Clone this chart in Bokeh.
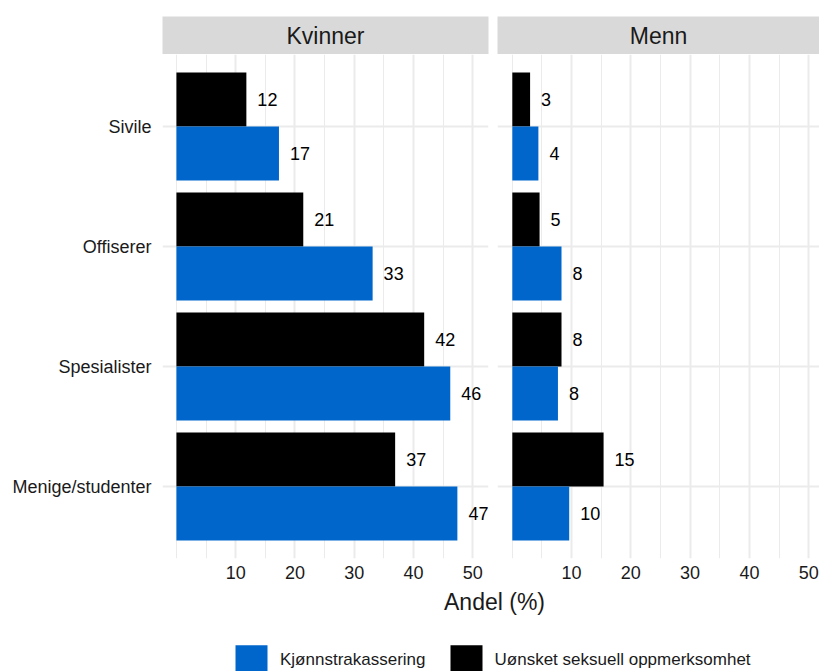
from bokeh.plotting import figure
from bokeh.models import (ColumnDataSource, FactorRange, Range1d, FixedTicker,
                          Label, Legend, LegendItem)
from bokeh.layouts import column, row
from bokeh.transform import dodge
from bokeh.embed import file_html
from bokeh.resources import INLINE
from bokeh.core.properties import value

# ---------------- data ----------------
categories = ["Sivile", "Offiserer", "Spesialister", "Menige/studenter"]
panels = ["Kvinner", "Menn"]
series = ["Kjønnstrakassering", "Uønsket seksuell oppmerksomhet"]
series_colors = ["#0066cc", "#000000"]

kvinner_trakassering = [17.3, 33.1, 46.2, 47.4]
kvinner_oppmerksomhet = [11.8, 21.4, 41.8, 36.9]
menn_trakassering = [4.4, 8.3, 7.7, 9.6]
menn_oppmerksomhet = [3.0, 4.6, 8.3, 15.4]

x_ticks = [10, 20, 30, 40, 50]
x_minor_ticks = [0, 5, 15, 25, 35, 45]
x_title = "Andel (%)"

FONT = "Liberation Sans"
TXT = "#1a1a1a"
GRID = "#ebebeb"
STRIP = "#d9d9d9"

yr = FactorRange(factors=categories[::-1], range_padding=0.1,
                 range_padding_units="absolute")


def strip(name, width, left, right):
    s = figure(width=width, height=54, x_range=Range1d(0, 1), y_range=Range1d(0, 1),
               x_axis_type=None, y_axis_type=None, toolbar_location=None,
               output_backend="svg", title=None,
               min_border_left=left, min_border_right=right,
               min_border_top=16, min_border_bottom=0)
    s.background_fill_color = STRIP
    s.border_fill_color = "white"
    s.outline_line_color = None
    s.grid.visible = False
    s.add_layout(Label(x=0.5, y=0.5, text=name, text_align="center",
                       text_baseline="middle", text_font=FONT,
                       text_font_size="23px", text_color=TXT))
    return s


def panel(traka, oppm, width, left, right, x_start, x_end, show_y):
    src = ColumnDataSource(dict(
        cat=categories, traka=traka, oppm=oppm,
        traka_lbl=[str(round(v)) for v in traka],
        oppm_lbl=[str(round(v)) for v in oppm]))
    p = figure(width=width, height=534, y_range=yr, x_range=Range1d(x_start, x_end),
               toolbar_location=None, output_backend="svg", title=None,
               min_border_left=left, min_border_right=right,
               min_border_top=0, min_border_bottom=30)
    y_top = dodge("cat", 0.225, range=yr)
    y_bot = dodge("cat", -0.225, range=yr)
    p.hbar(y=y_top, left=0, right="oppm", height=0.45, fill_color=series_colors[1],
           line_color=None, source=src)
    p.hbar(y=y_bot, left=0, right="traka", height=0.45, fill_color=series_colors[0],
           line_color=None, source=src)
    for col, yy in (("oppm", y_top), ("traka", y_bot)):
        p.text(x=col, y=yy, text=col + "_lbl", x_offset=11, text_align="left",
               text_baseline="middle", text_font=value(FONT), text_font_size="18px",
               text_color="#000000", source=src)

    p.xaxis.ticker = FixedTicker(ticks=x_ticks, minor_ticks=x_minor_ticks)
    for ax in (p.xaxis[0], p.yaxis[0]):
        ax.axis_line_color = None
        ax.major_tick_line_color = None
        ax.minor_tick_line_color = None
        ax.major_tick_out = 0
        ax.major_tick_in = 0
        ax.minor_tick_out = 0
        ax.minor_tick_in = 0
        ax.major_label_text_font = FONT
        ax.major_label_text_font_size = "18px"
        ax.major_label_text_color = TXT
    p.xaxis.major_label_standoff = 7
    p.yaxis.major_label_standoff = 11
    p.yaxis.visible = show_y

    p.xgrid.grid_line_color = GRID
    p.xgrid.grid_line_width = 2
    p.xgrid.minor_grid_line_color = GRID
    p.xgrid.minor_grid_line_width = 1
    p.ygrid.grid_line_color = GRID
    p.ygrid.grid_line_width = 2
    p.outline_line_color = None
    p.background_fill_color = "white"
    return p


s1 = strip(panels[0], 492, 162, 4)
s2 = strip(panels[1], 327, 5, 0)
p1 = panel(kvinner_trakassering, kvinner_oppmerksomhet, 492, 162, 4, -2.35, 52.65, True)
p2 = panel(menn_trakassering, menn_oppmerksomhet, 327, 5, 0, -2.5, 51.83, False)

# bottom: shared axis title and legend
b = figure(width=819, height=83, x_range=Range1d(0, 1), y_range=Range1d(0, 1),
           x_axis_type=None, y_axis_type=None, toolbar_location=None,
           output_backend="svg", title=None,
           min_border_left=0, min_border_right=0, min_border_top=0, min_border_bottom=0)
b.outline_line_color = None
b.grid.visible = False
b.add_layout(Label(x=494, y=70, x_units="screen", y_units="screen", text=x_title,
                   text_align="center", text_baseline="middle", text_font=FONT,
                   text_font_size="23px", text_color=TXT))
# zero-size proxy bars that only feed the legend
src_proxy = ColumnDataSource(dict(y=[0], right=[0]))
r_blue = b.hbar(y="y", right="right", left=0, height=0, fill_color=series_colors[0],
                line_color=None, source=src_proxy)
r_black = b.hbar(y="y", right="right", left=0, height=0, fill_color=series_colors[1],
                 line_color=None, source=src_proxy)
legend = Legend(items=[LegendItem(label=series[0], renderers=[r_blue]),
                       LegendItem(label=series[1], renderers=[r_black])],
                location=(231, -7.75), orientation="horizontal",
                glyph_width=40, glyph_height=38, label_standoff=9, spacing=20,
                padding=0, margin=0, border_line_color=None,
                background_fill_alpha=0, label_text_font=FONT,
                label_text_font_size="17px", label_text_color=TXT)
b.add_layout(legend, "center")

layout = column(row(s1, s2), row(p1, p2), b)

open("out.html", "w").write(file_html(layout, INLINE))
